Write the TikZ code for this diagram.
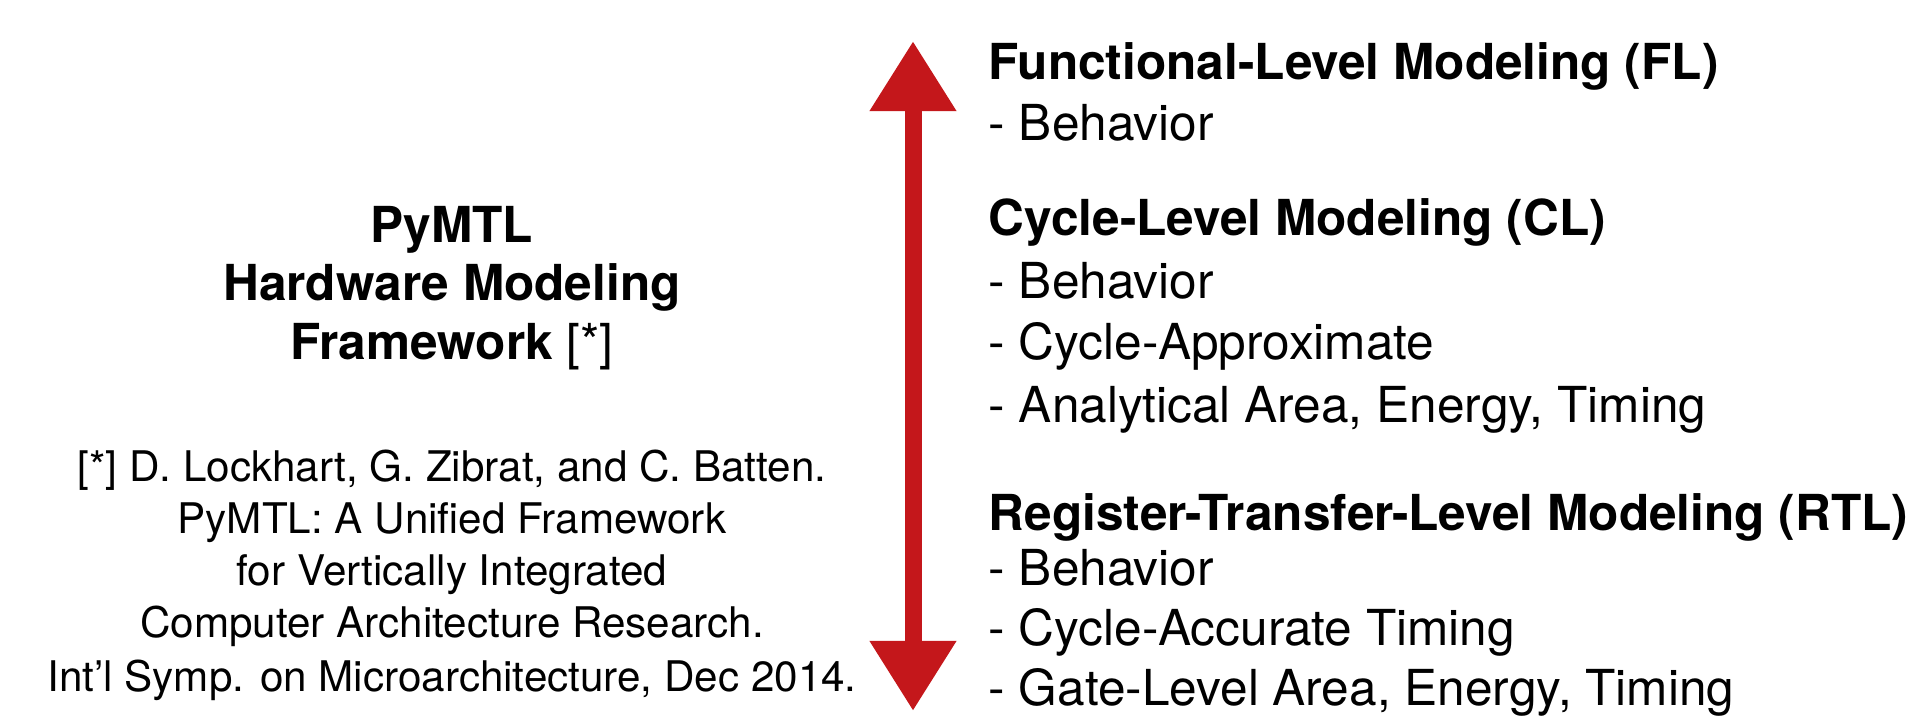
\documentclass[tikz,border=0pt]{standalone}
\usepackage{fontspec}
\setmainfont{TeX Gyre Heros}
\usetikzlibrary{arrows.meta}

\definecolor{levelred}{RGB}{196,23,27}

\tikzset{
	lvltitle/.style={anchor=base west, inner sep=0pt, font=\fontsize{14.1}{17}\selectfont\bfseries},
	lvlitem/.style={anchor=base west, inner sep=0pt, font=\fontsize{14.1}{17}\selectfont},
	fwtitle/.style={anchor=base, inner sep=0pt, font=\fontsize{14.1}{17}\selectfont\bfseries},
	fwcite/.style={anchor=base, inner sep=0pt, font=\fontsize{12}{14}\selectfont},
}

\begin{document}
\begin{tikzpicture}[x=0.01cm,y=-0.01cm]
	\useasboundingbox (0,0) rectangle (1911,724);

	% framework name and reference
	\node[fwtitle] (name1) at (452,242) {PyMTL};
	\node[fwtitle] (name2) at (452,300) {Hardware Modeling};
	\node[fwtitle] (name3) at (452,359) {Framework \mdseries[*]};

	\node[fwcite] (ref1) at (452,481) {[*] D. Lockhart, G. Zibrat, and C. Batten.};
	\node[fwcite] (ref2) at (452,533) {PyMTL: A Unified Framework};
	\node[fwcite] (ref3) at (452,585) {for Vertically Integrated};
	\node[fwcite] (ref4) at (452,637) {Computer Architecture Research.};
	\node[fwcite] (ref5) at (452,691) {Int'l Symp. on Microarchitecture, Dec 2014.};

	% abstraction axis
	\coordinate (hi) at (913,41);
	\coordinate (lo) at (913,711);
	\draw[levelred, line width=0.17cm,
		{Triangle[width=0.82cm,length=0.70cm]}-{Triangle[width=0.82cm,length=0.70cm]}] (hi) -- (lo);

	% modeling levels
	\node[lvltitle] (fl) at (988,79) {Functional-Level Modeling (FL)};
	\node[lvlitem] (fl1) at (988,140) {- Behavior};

	\node[lvltitle] (cl) at (988,235) {Cycle-Level Modeling (CL)};
	\node[lvlitem] (cl1) at (988,298) {- Behavior};
	\node[lvlitem] (cl2) at (988,359) {- Cycle-Approximate};
	\node[lvlitem] (cl3) at (988,422) {- Analytical Area, Energy, Timing};

	\node[lvltitle] (rtl) at (988,530) {Register-Transfer-Level Modeling (RTL)};
	\node[lvlitem] (rtl1) at (988,585) {- Behavior};
	\node[lvlitem] (rtl2) at (988,645) {- Cycle-Accurate Timing};
	\node[lvlitem] (rtl3) at (988,705) {- Gate-Level Area, Energy, Timing};
\end{tikzpicture}
\end{document}
